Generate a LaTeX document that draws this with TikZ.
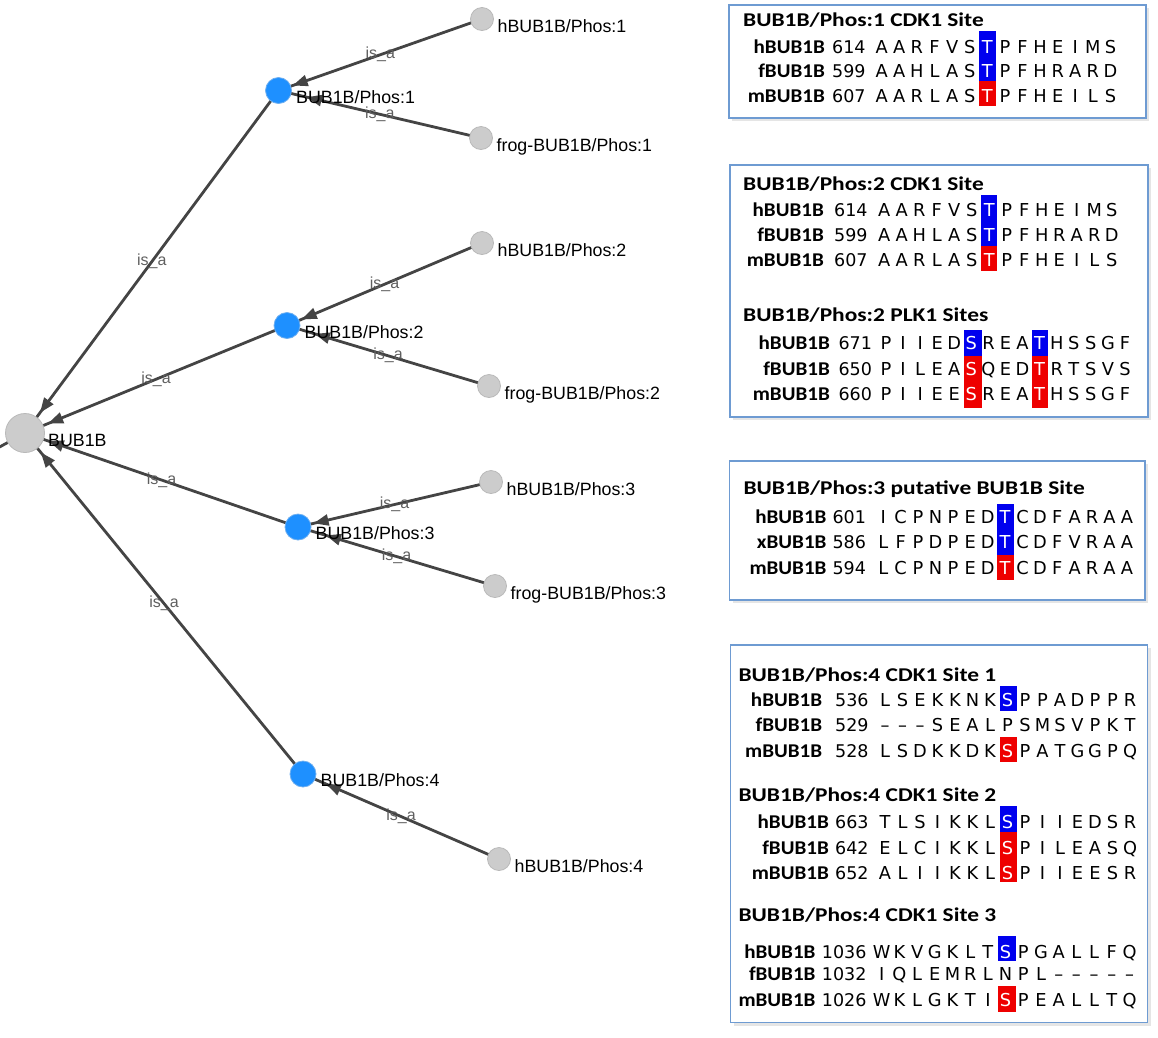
\documentclass[tikz,border=0pt]{standalone}
\usepackage{fontspec}
\setmainfont{Liberation Sans}
\newfontfamily\titfont[FakeStretch=1.2]{Carlito}
\newfontfamily\spfont[FakeStretch=1.08]{Carlito}
\newfontfamily\resfont{DejaVu Sans}
\usetikzlibrary{arrows.meta,decorations.markings}
\pgfdeclarelayer{bg}
\pgfsetlayers{bg,main}
\definecolor{edgec}{RGB}{68,68,68}
\definecolor{labgray}{RGB}{95,95,95}
\definecolor{nodegray}{RGB}{204,204,204}
\definecolor{nodegrayb}{RGB}{185,185,185}
\definecolor{nodeblue}{RGB}{30,144,255}
\definecolor{nodeblueb}{RGB}{110,175,240}
\definecolor{boxblue}{RGB}{110,155,210}
\definecolor{hblue}{RGB}{0,0,238}
\definecolor{hred}{RGB}{238,0,0}
\newcommand{\wres}{\color{white}}
\newcommand{\seqrow}[9]{%
  \node[species] (#1-sp) at (#3,#2) {#4};
  \node[seqnum] (#1-n) at (#5,#2) {#6};
  \foreach \r [count=\i from 0] in {#9} {\node[res] (#1-\i) at ({#7+\i*#8},#2) {\r};}
}
\tikzset{
  gnode/.style={circle, fill=nodegray, draw=nodegrayb, line width=0.8pt, inner sep=0pt, minimum size=23pt},
  bnode/.style={circle, fill=nodeblue, draw=nodeblueb, line width=0.8pt, inner sep=0pt, minimum size=26pt},
  rootnode/.style={circle, fill=nodegray, draw=nodegrayb, line width=0.8pt, inner sep=0pt, minimum size=39pt},
  nlabel/.style={font=\fontsize{17.8}{20}\selectfont, inner sep=0pt, anchor=base west, text=black},
  edge/.style={draw=edgec, line width=2.8pt},
  tipat/.style={postaction={decorate}, decoration={markings, mark=at position -#1 with {\arrow[edgec]{Triangle[length=15pt,width=11pt]}}}},
  elabel/.style={font=\fontsize{16}{18}\selectfont, text=labgray, inner sep=0pt, midway},
  seqbox/.style={draw=boxblue, line width=1.5pt, fill=white},
  boxshadow/.style={fill=black!10},
  boxtitle/.style={font=\titfont\bfseries\fontsize{19.5}{22}\selectfont, anchor=base west, inner sep=0pt},
  species/.style={font=\spfont\bfseries\fontsize{19.5}{22}\selectfont, anchor=base east, inner sep=0pt},
  seqnum/.style={font=\resfont\fontsize{17.5}{21}\selectfont, anchor=base west, inner sep=0pt},
  res/.style={font=\resfont\fontsize{17.8}{21}\selectfont, anchor=base, inner sep=0pt},
}
\begin{document}
\begin{tikzpicture}[x=1pt,y=-1pt]
\useasboundingbox (0,0) rectangle (1158,1037);
% ---------------- graph ----------------
\node[rootnode] (root) at (25,433) {};
\node[bnode] (p1) at (278.5,90.5) {};
\node[bnode] (p2) at (287,325.5) {};
\node[bnode] (p3) at (298,527) {};
\node[bnode] (p4) at (303,774) {};
\node[gnode] (h1) at (482,19) {};
\node[gnode] (f1) at (481,138) {};
\node[gnode] (h2) at (482,243) {};
\node[gnode] (f2) at (489,386) {};
\node[gnode] (h3) at (491,482) {};
\node[gnode] (f3) at (495,586) {};
\node[gnode] (h4) at (499,859) {};
\coordinate (off) at (-35,466);

\node[nlabel] (rootl) at ([shift={(23,13)}]root.center) {BUB1B};
\node[nlabel] (p1l) at ([shift={(17.5,12.5)}]p1.center) {BUB1B/Phos:1};
\node[nlabel] (p2l) at ([shift={(17.5,12.5)}]p2.center) {BUB1B/Phos:2};
\node[nlabel] (p3l) at ([shift={(17.5,12.5)}]p3.center) {BUB1B/Phos:3};
\node[nlabel] (p4l) at ([shift={(17.5,12.5)}]p4.center) {BUB1B/Phos:4};
\node[nlabel] (h1l) at ([shift={(15.5,13.5)}]h1.center) {hBUB1B/Phos:1};
\node[nlabel] (f1l) at ([shift={(15.5,13.5)}]f1.center) {frog-BUB1B/Phos:1};
\node[nlabel] (h2l) at ([shift={(15.5,13.5)}]h2.center) {hBUB1B/Phos:2};
\node[nlabel] (f2l) at ([shift={(15.5,13.5)}]f2.center) {frog-BUB1B/Phos:2};
\node[nlabel] (h3l) at ([shift={(15.5,13.5)}]h3.center) {hBUB1B/Phos:3};
\node[nlabel] (f3l) at ([shift={(15.5,13.5)}]f3.center) {frog-BUB1B/Phos:3};
\node[nlabel] (h4l) at ([shift={(15.5,13.5)}]h4.center) {hBUB1B/Phos:4};

\begin{pgfonlayer}{bg}
\draw[edge] (root.center) -- (off);
\draw[edge, tipat=25pt] (p1.center) -- node[elabel] (e1) {is\_a} (root.center);
\draw[edge, tipat=25pt] (p2.center) -- node[elabel] (e2) {is\_a} (root.center);
\draw[edge, tipat=25pt] (p3.center) -- node[elabel] (e3) {is\_a} (root.center);
\draw[edge, tipat=25pt] (p4.center) -- node[elabel] (e4) {is\_a} (root.center);
\draw[edge, tipat=15pt] (h1.center) -- node[elabel] (e5) {is\_a} (p1.center);
\draw[edge, tipat=29pt] (f1.center) -- node[elabel] (e6) {is\_a} (p1.center);
\draw[edge, tipat=16pt] (h2.center) -- node[elabel] (e7) {is\_a} (p2.center);
\draw[edge, tipat=29pt] (f2.center) -- node[elabel] (e8) {is\_a} (p2.center);
\draw[edge, tipat=16pt] (h3.center) -- node[elabel] (e9) {is\_a} (p3.center);
\draw[edge, tipat=29pt] (f3.center) -- node[elabel] (e10) {is\_a} (p3.center);
\draw[edge, tipat=25pt] (h4.center) -- node[elabel] (e11) {is\_a} (p4.center);
\end{pgfonlayer}

% ---------------- alignment boxes ----------------
% box 1
\fill[boxshadow] (732,8) rectangle (1149,121);
\draw[seqbox] (729,5) rectangle (1146,118);
\fill[hblue] (979,31) rectangle (996,81);
\fill[hred] (979,81) rectangle (996,106);
\node[boxtitle] (t1) at (743,26.7) {BUB1B/Phos:1 CDK1 Site};
\seqrow{ah}{53.3}{825}{hBUB1B}{832}{614}{881.7}{17.6}{A,A,R,F,V,S,\wres T,P,F,H,E,I,M,S}
\seqrow{af}{77.5}{825}{fBUB1B}{832}{599}{881.7}{17.6}{A,A,H,L,A,S,\wres T,P,F,H,R,A,R,D}
\seqrow{am}{102.7}{825}{mBUB1B}{832}{607}{881.7}{17.6}{A,A,R,L,A,S,\wres T,P,F,H,E,I,L,S}

% box 2
\fill[boxshadow] (733,168) rectangle (1151,420);
\draw[seqbox] (730,165) rectangle (1148,417);
\fill[hblue] (981,195) rectangle (997,246);
\fill[hred] (981,246) rectangle (997,271);
\fill[hblue] (964.3,330) rectangle (981.7,356);
\fill[hred] (964.3,356) rectangle (981.7,408);
\fill[hblue] (1031.7,330) rectangle (1048.3,356);
\fill[hred] (1031.7,356) rectangle (1048.3,408);
\node[boxtitle] (t2) at (743,190.7) {BUB1B/Phos:2 CDK1 Site};
\seqrow{bh}{216.7}{824}{hBUB1B}{834}{614}{884.3}{17.5}{A,A,R,F,V,S,\wres T,P,F,H,E,I,M,S}
\seqrow{bf}{241.7}{824}{fBUB1B}{834}{599}{884.3}{17.5}{A,A,H,L,A,S,\wres T,P,F,H,R,A,R,D}
\seqrow{bm}{266.7}{824}{mBUB1B}{834}{607}{884.3}{17.5}{A,A,R,L,A,S,\wres T,P,F,H,E,I,L,S}
\node[boxtitle] (t3) at (743,321.7) {BUB1B/Phos:2 PLK1 Sites};
\seqrow{ch}{349.3}{830}{hBUB1B}{838.3}{671}{886}{17.07}{P,I,I,E,D,\wres S,R,E,A,\wres T,H,S,S,G,F}
\seqrow{cf}{375.5}{830}{fBUB1B}{838.3}{650}{886}{17.07}{P,I,L,E,A,\wres S,Q,E,D,\wres T,R,T,S,V,S}
\seqrow{cm}{400.7}{830}{mBUB1B}{838.3}{660}{886}{17.07}{P,I,I,E,E,\wres S,R,E,A,\wres T,H,S,S,G,F}

% box 3
\fill[boxshadow] (732.7,464) rectangle (1148,603);
\draw[seqbox] (729.7,461) rectangle (1145,600);
\fill[hblue] (997.3,504.3) rectangle (1014.3,555);
\fill[hred] (997.3,555) rectangle (1014.3,580);
\node[boxtitle] (t4) at (743.3,494.3) {BUB1B/Phos:3 putative BUB1B Site};
\seqrow{dh}{523.3}{826.7}{hBUB1B}{832.3}{601}{883.3}{17.4}{I,C,P,N,P,E,D,\wres T,C,D,F,A,R,A,A}
\seqrow{dx}{548.3}{826.7}{xBUB1B}{832.3}{586}{883.3}{17.4}{L,F,P,D,P,E,D,\wres T,C,D,F,V,R,A,A}
\seqrow{dm}{574.3}{826.7}{mBUB1B}{832.3}{594}{883.3}{17.4}{L,C,P,N,P,E,D,\wres T,C,D,F,A,R,A,A}

% box 4
\fill[boxshadow] (733.7,648) rectangle (1150.7,1025.7);
\draw[seqbox] (730.7,645) rectangle (1147.7,1022.7);
\fill[hblue] (1000,685.7) rectangle (1017.3,710.7);
\fill[hred] (1000,736.7) rectangle (1017.3,761.7);
\fill[hblue] (1000,806) rectangle (1017.3,831.7);
\fill[hred] (1000,831.7) rectangle (1017.3,881.7);
\fill[hblue] (997.7,936) rectangle (1015.7,960.7);
\fill[hred] (997.7,986) rectangle (1015.7,1011.7);
\node[boxtitle] (t5) at (738.3,681.7) {BUB1B/Phos:4 CDK1 Site 1};
\seqrow{eh}{706.7}{822.3}{hBUB1B}{835}{536}{885}{17.5}{L,S,E,K,K,N,K,\wres S,P,P,A,D,P,P,R}
\seqrow{ef}{731.7}{822.3}{fBUB1B}{835}{529}{885}{17.5}{\textendash,\textendash,\textendash,S,E,A,L,P,S,M,S,V,P,K,T}
\seqrow{em}{757.3}{822.3}{mBUB1B}{835}{528}{885}{17.5}{L,S,D,K,K,D,K,\wres S,P,A,T,G,G,P,Q}
\node[boxtitle] (t6) at (738.3,801.7) {BUB1B/Phos:4 CDK1 Site 2};
\seqrow{gh}{828.3}{829}{hBUB1B}{835}{663}{885}{17.5}{T,L,S,I,K,K,L,\wres S,P,I,I,E,D,S,R}
\seqrow{gf}{854}{829}{fBUB1B}{835}{642}{885}{17.5}{E,L,C,I,K,K,L,\wres S,P,I,L,E,A,S,Q}
\seqrow{gm}{879.3}{829}{mBUB1B}{835}{652}{885}{17.5}{A,L,I,I,K,K,L,\wres S,P,I,I,E,E,S,R}
\node[boxtitle] (t7) at (738.3,921.7) {BUB1B/Phos:4 CDK1 Site 3};
\seqrow{kh}{958.3}{815.7}{hBUB1B}{821.7}{1036}{881.7}{17.7}{W,K,V,G,K,L,T,\wres S,P,G,A,L,L,F,Q}
\seqrow{kf}{980}{815.7}{fBUB1B}{821.7}{1032}{881.7}{17.7}{I,Q,L,E,M,R,L,N,P,L,\textendash,\textendash,\textendash,\textendash,\textendash}
\seqrow{km}{1006.7}{815.7}{mBUB1B}{821.7}{1026}{881.7}{17.7}{W,K,L,G,K,T,I,\wres S,P,E,A,L,L,T,Q}
\end{tikzpicture}
\end{document}
